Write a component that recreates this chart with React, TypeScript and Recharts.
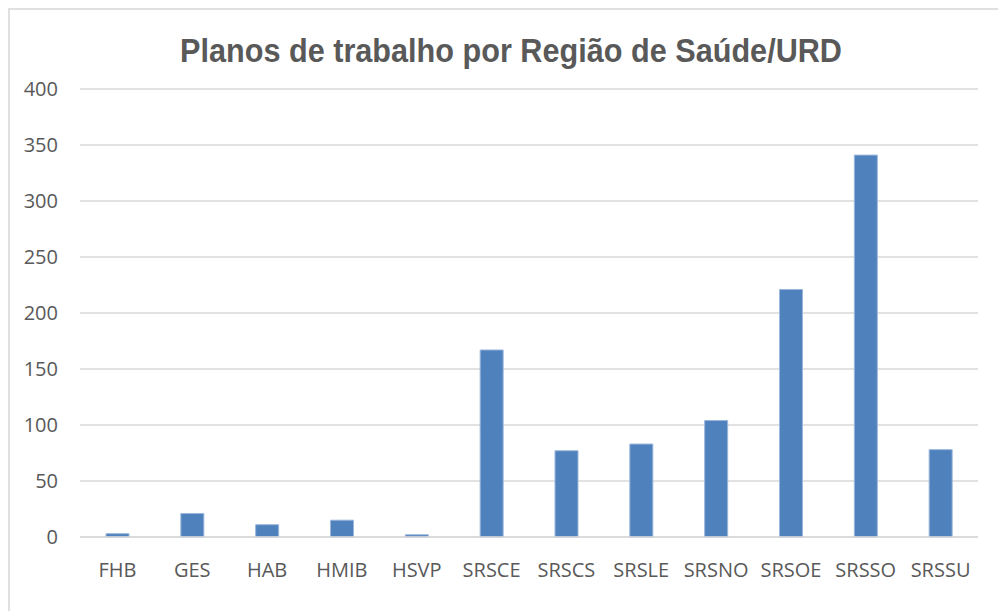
import { BarChart, Bar, XAxis, YAxis, CartesianGrid } from "recharts";

const categories = ["FHB", "GES", "HAB", "HMIB", "HSVP", "SRSCE", "SRSCS", "SRSLE", "SRSNO", "SRSOE", "SRSSO", "SRSSU"];
const planos = [3, 21, 11, 15, 2, 167, 77, 83, 104, 221, 341, 78];
const yTicks = [0, 50, 100, 150, 200, 250, 300, 350, 400];

const data = categories.map((name, i) => ({ name, value: planos[i] }));

const labelFont = "'Open Sans', sans-serif";

export default function App() {
  return (
    <div style={{ position: "fixed", left: 0, top: 0, width: 998, height: 611, overflow: "hidden", background: "#fff" }}>
      <div
        style={{
          position: "absolute",
          left: 8,
          top: 8,
          width: 1000,
          height: 620,
          border: "2px solid #e0e0e0",
          boxSizing: "border-box",
        }}
      />
      <BarChart
        width={998}
        height={611}
        data={data}
        margin={{ top: 89, right: 20, bottom: 34, left: 0 }}
        style={{ position: "absolute", left: 0, top: 0 }}
      >
        <text
          x={511}
          y={62}
          textAnchor="middle"
          fill="#595959"
          fontFamily="'Liberation Sans', Arial, sans-serif"
          fontWeight="bold"
          fontSize={33}
          textLength={662}
          lengthAdjust="spacingAndGlyphs"
        >
          Planos de trabalho por Região de Saúde/URD
        </text>
        <CartesianGrid vertical={false} stroke="#d9d9d9" strokeWidth={1.5} />
        <XAxis
          dataKey="name"
          height={40}
          tickLine={false}
          axisLine={{ stroke: "#d9d9d9", strokeWidth: 1.5 }}
          tickMargin={20}
          interval={0}
          tick={{ fill: "#595959", fontSize: 20, fontFamily: labelFont }}
        />
        <YAxis
          width={80}
          domain={[0, 400]}
          ticks={yTicks}
          tickLine={false}
          axisLine={false}
          tickMargin={16}
          tick={{ fill: "#595959", fontSize: 20, fontFamily: labelFont }}
        />
        <Bar dataKey="value" fill="#4f81bd" stroke="#9bb7dc" strokeWidth={1} barSize={23} isAnimationActive={false} />
      </BarChart>
    </div>
  );
}
